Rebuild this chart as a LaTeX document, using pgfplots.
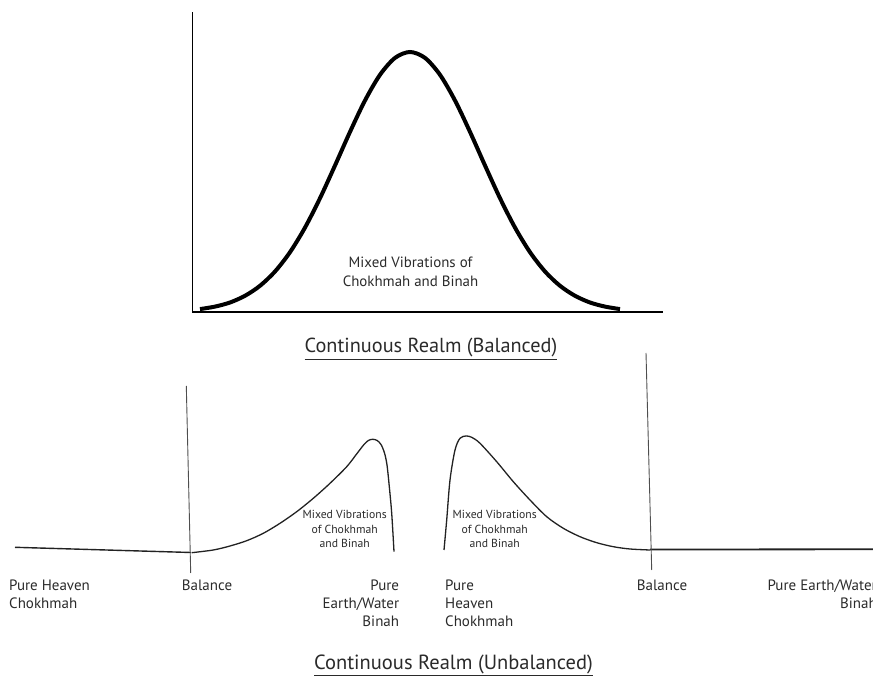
\documentclass[border=0pt]{standalone}
\usepackage{fontspec}
\setmainfont{PT Sans}
\usepackage{pgfplots}
\pgfplotsset{compat=1.18}
\definecolor{txt}{HTML}{2A2A2A}
\definecolor{ln}{HTML}{222222}
\begin{document}
\begin{tikzpicture}
\useasboundingbox (0,0) rectangle (873bp,679bp);
\begin{axis}[at={(0,0)}, anchor=south west, scale only axis,
  width=873bp, height=679bp, xmin=0, xmax=873, ymin=0, ymax=679,
  hide axis, clip=false]
% top axes
\addplot[black, line width=1.5bp] coordinates {(192.5,666.5) (192.5,367) (663,367)};
% bell curve
\addplot[black, line width=4bp, smooth] coordinates {
(200,369.9) (215,372.4) (230,376.5) (245,383.2) (260,393.2) (275,407.5)
(290,426.8) (305,451.4) (320,480.8) (335,513.5) (350,547.1) (365,578.5)
(380,604.2) (395,621.1) (410,627) (425,621.1) (440,604.2) (455,578.5)
(470,547.1) (485,513.5) (500,480.8) (515,451.4) (530,426.8) (545,407.5)
(560,393.2) (575,383.2) (590,376.5) (605,372.4) (620,369.9)};
% bottom left
\addplot[ln, line width=1.4bp] coordinates {(15,131.7) (191,126.5)};
\addplot[ln!80, line width=0.9bp] coordinates {(186.3,293) (190.7,106)};
\addplot[ln, line width=1.3bp, smooth] coordinates {
(191.7,126.3) (213.3,129) (230,133) (246.7,138.3) (263.3,145.7) (280,155.7)
(296.7,167.3) (313.3,180.7) (330,195.7) (346.7,212.3) (357,225.5) (364,234.5)
(368.5,238.6) (372.7,239.7) (377,238.6) (381,234.5) (384.5,226) (387,214)
(389.3,192.3) (391.7,165.7) (394,127.3)};
% bottom right
\addplot[ln, line width=1.3bp, smooth] coordinates {
(444,129) (446.7,159) (450,199) (455,229) (460,240.7) (466,243) (471.7,241.7)
(480,235.7) (496.7,217.3) (513.3,197.3) (530,179) (546.7,162.3) (563.3,150.7)
(580,142.3) (596.7,136.3) (613.3,132.3) (630,130) (650,129)};
\addplot[ln, line width=1.8bp] coordinates {(650,129.5) (873,129.7)};
\addplot[ln!80, line width=0.9bp] coordinates {(646,326) (651.7,109)};
% texts
\node[txt, align=center, font=\fontsize{14.9bp}{18.3bp}\selectfont] at (axis cs:410.5,407.2) {Mixed Vibrations of\\Chokhmah and Binah};
\node[txt, font=\fontsize{20.3bp}{23bp}\selectfont] at (axis cs:431,330) {\underline{Continuous Realm (Balanced)}};
\node[txt, anchor=west, inner sep=0pt, align=left, font=\fontsize{15bp}{18.3bp}\selectfont] at (axis cs:9,85) {Pure Heaven\\Chokhmah};
\node[txt, anchor=west, inner sep=0pt, font=\fontsize{15bp}{18.3bp}\selectfont] at (axis cs:181.7,94) {Balance};
\node[txt, anchor=east, inner sep=0pt, align=right, font=\fontsize{15bp}{18.3bp}\selectfont] at (axis cs:399.3,75.7) {Pure\\Earth/Water\\Binah};
\node[txt, align=center, font=\fontsize{11.7bp}{14.5bp}\selectfont] at (axis cs:344.7,149.7) {Mixed Vibrations\\of Chokhmah\\and Binah};
\node[txt, align=center, font=\fontsize{11.7bp}{14.5bp}\selectfont] at (axis cs:494.7,150) {Mixed Vibrations\\of Chokhmah\\and Binah};
\node[txt, anchor=west, inner sep=0pt, align=left, font=\fontsize{15bp}{18.3bp}\selectfont] at (axis cs:445,75.7) {Pure\\Heaven\\Chokhmah};
\node[txt, anchor=west, inner sep=0pt, font=\fontsize{15bp}{18.3bp}\selectfont] at (axis cs:636.7,94) {Balance};
\node[txt, anchor=east, inner sep=0pt, align=right, font=\fontsize{15bp}{18.3bp}\selectfont] at (axis cs:877,85) {Pure Earth/Water\\Binah};
\node[txt, font=\fontsize{20.5bp}{23bp}\selectfont] at (axis cs:453.5,14) {\underline{Continuous Realm (Unbalanced)}};
\end{axis}
\end{tikzpicture}
\end{document}
